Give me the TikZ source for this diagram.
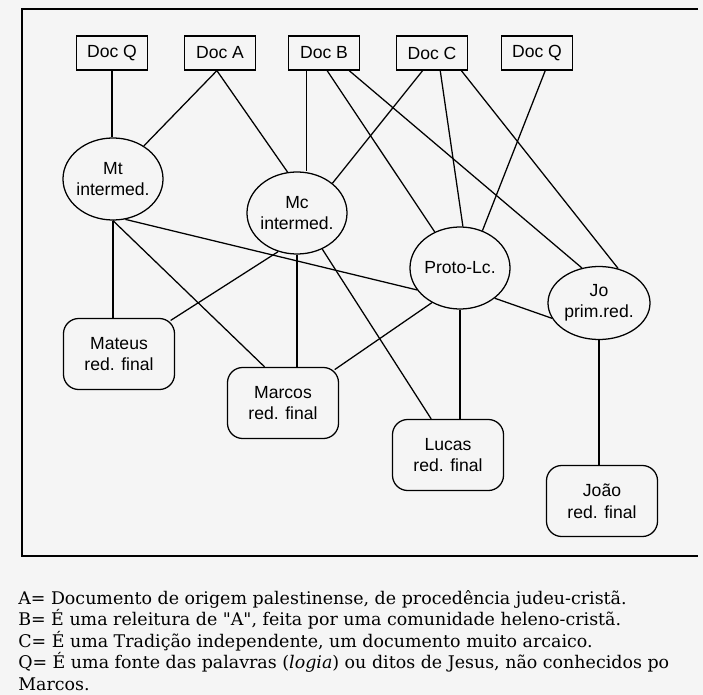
\documentclass[tikz,border=0pt]{standalone}
\usepackage{fontspec}
\setsansfont{Liberation Sans}
\newfontfamily\legendfont{DejaVu Serif}
\usetikzlibrary{shapes.geometric}
\tikzset{
	docbox/.style={draw, line width=0.9pt, minimum width=1.775cm, minimum height=0.85cm, inner sep=1pt, font=\sffamily\fontsize{12.5}{15}\selectfont},
	midell/.style={draw, ellipse, line width=0.9pt, inner xsep=-0.1cm, inner ysep=0pt, minimum width=2.5cm, minimum height=2.05cm, align=center, font=\sffamily\fontsize{12.5}{15}\selectfont},
	finalbox/.style={draw, rounded corners=0.38cm, line width=0.9pt, minimum width=2.775cm, minimum height=1.775cm, inner sep=1pt, align=center, font=\sffamily\fontsize{12.5}{15.5}\selectfont},
	link/.style={line width=0.9pt},
	legline/.style={anchor=base west, inner sep=0pt, font=\legendfont\fontsize{12.4}{14}\selectfont}
}

\begin{document}
\begin{tikzpicture}[x=0.025cm, y=-0.025cm]
	%%%%% START %%%%%
	\useasboundingbox[fill=black!4] (0,0) rectangle (703,695);
	\draw[line width=1.2pt] (698,9) -- (22,9) -- (22,556) -- (698,556);
	
	\node[docbox] (docQa) at (112,53) {Doc Q};
	\node[docbox] (docA) at (220,53) {Doc A};
	\node[docbox] (docB) at (324,53) {Doc B};
	\node[docbox] (docC) at (432,53) {Doc C};
	\node[docbox] (docQb) at (537,53) {Doc Q};
	
	\node[midell] (mt) at (113,179) {Mt\\intermed.};
	\node[midell] (mc) at (297,213) {Mc\\intermed.};
	\node[midell] (proto) at (460,268) {Proto-Lc.};
	\node[midell, minimum width=2.55cm, minimum height=1.825cm] (jo) at (599,303) {Jo\\prim.red.};
	
	\node[finalbox] (mateus) at (119,354) {Mateus\\red. final};
	\node[finalbox] (marcos) at (283,403) {Marcos\\red. final};
	\node[finalbox] (lucas) at (448,455) {Lucas\\red. final};
	\node[finalbox] (joao) at (602,501) {João\\red. final};
	
	% sources
	\draw[link] (docQa.south) -- (docQa.south |- mt.north);
	\draw[link] (docA.-100) -- (mt.47);
	\draw[link] (docA.-100) -- (mc.103);
	\draw[link] (docB.-135) -- (docB.-135 |- mc.north);
	\draw[link] (docB.-80) -- (proto.125);
	\draw[link] (docB.-35) -- (jo.116);
	\draw[link] (docC.-118) -- (mc.40);
	\draw[link] (docC.-65) -- (proto.86);
	\draw[link] (docC.-31) -- (jo.61);
	\draw[link] (docQb.-65) -- (proto.59);
	
	% intermediate stages
	\draw[link] (mt.south) -- (mt.south |- mateus.north);
	\draw[link] (mt.south) -- (marcos.117);
	\draw[link] (mt.-73) -- (proto.-153);
	\draw[link, shorten >=-0.12cm] (mc.-116) -- (mateus.33);
	\draw[link] (mc.south) -- (mc.south |- marcos.north);
	\draw[link] (mc.-55) -- (lucas.115);
	\draw[link, shorten >=-0.12cm] (proto.-129) -- (marcos.33);
	\draw[link] (proto.south) -- (proto.south |- lucas.north);
	\draw[link] (proto.-41) -- (jo.-162);
	\draw[link] (jo.south) -- (jo.south |- joao.north);
	
	\node[legline] (leg1) at (18,604) {A= Documento de origem palestinense, de procedência judeu-cristã.};
	\node[legline] (leg2) at (18,625.5) {B= É uma releitura de "A", feita por uma comunidade heleno-cristã.};
	\node[legline] (leg3) at (18,647) {C= É uma Tradição independente, um documento muito arcaico.};
	\node[legline] (leg4) at (18,668.5) {Q= É uma fonte das palavras (\textit{logia}) ou ditos de Jesus, não conhecidos po};
	\node[legline] (leg5) at (18,690) {Marcos.};
	%%%%% END %%%%%
\end{tikzpicture}
\end{document}
